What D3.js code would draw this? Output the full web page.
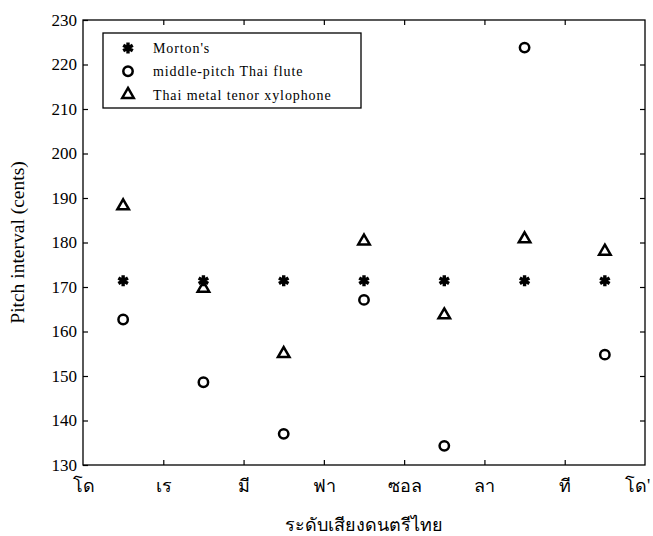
<!DOCTYPE html>
<head>
<meta charset="utf-8">
<script src="https://cdn.jsdelivr.net/npm/d3@7/dist/d3.min.js"></script>
<style>
body { margin: 0; background: #fff; }
text { font-family: "Liberation Serif", "Times New Roman", serif; fill: #000; }
</style>
</head>
<body>
<svg width="653" height="536"></svg>

<script>
    // scale degrees (x axis) and the intervals between them
    var degrees = ["โด", "เร", "มี", "ฟา", "ซอล", "ลา", "ที", "โด'"];
    var intervalPos = [0.5, 1.5, 2.5, 3.5, 4.5, 5.5, 6.5];

    var morton = [171.4, 171.4, 171.4, 171.4, 171.4, 171.4, 171.4];
    var flute = [162.7, 148.6, 137, 167.1, 134.3, 223.8, 154.8];
    var xylophone = [188.2, 169.7, 155, 180.3, 163.7, 180.8, 178];

    var yTicks = [130, 140, 150, 160, 170, 180, 190, 200, 210, 220, 230];
    var seriesNames = ["Morton's", "middle-pitch Thai flute", "Thai metal tenor xylophone"];

    var svg = d3.select("svg"),
        margin = {top: 20, right: 8, bottom: 71, left: 83},
        width = +svg.attr("width") - margin.left - margin.right,
        height = +svg.attr("height") - margin.top - margin.bottom,
        g = svg.append("g").attr("transform", "translate(" + margin.left + "," + margin.top + ")");

    var x = d3.scaleLinear().domain([0, 7]).range([0, width]);
    var y = d3.scaleLinear().domain([130, 230]).range([height, 0]);

    // frame
    g.append("rect")
      .attr("width", width).attr("height", height)
      .attr("fill", "none").attr("stroke", "#000").attr("stroke-width", 1.3);

    // inward ticks on all four sides
    var inner = d3.range(1, 7);
    var tickW = 1.2;
    g.append("g").call(d3.axisBottom(x).tickValues(inner).tickSize(-5).tickFormat(""))
      .attr("transform", "translate(0," + height + ")")
      .call(function(a) { a.select(".domain").remove(); a.selectAll("line").attr("stroke-width", tickW); });
    g.append("g").call(d3.axisTop(x).tickValues(inner).tickSize(-5).tickFormat(""))
      .call(function(a) { a.select(".domain").remove(); a.selectAll("line").attr("stroke-width", tickW); });
    g.append("g").call(d3.axisRight(y).tickValues(yTicks.slice(1, -1)).tickSize(-5).tickFormat(""))
      .attr("transform", "translate(" + width + ",0)")
      .call(function(a) { a.select(".domain").remove(); a.selectAll("line").attr("stroke-width", tickW); });

    var yAxis = g.append("g").call(d3.axisLeft(y).tickValues(yTicks).tickSize(-5).tickPadding(6))
      .call(function(a) { a.select(".domain").remove(); a.selectAll("line").attr("stroke-width", tickW); });
    yAxis.selectAll("text")
      .style("font-family", "Liberation Serif").attr("font-size", 17);

    var xAxis = g.append("g").attr("transform", "translate(0," + height + ")")
      .call(d3.axisBottom(x).tickValues(d3.range(8)).tickSize(0).tickPadding(14)
        .tickFormat(function(d) { return degrees[d]; }))
      .call(function(a) { a.select(".domain").remove(); });
    xAxis.selectAll("text")
      .style("font-family", "Liberation Serif, serif").attr("font-size", 18)
      .attr("dx", function(d) { return d === 7 ? -8 : 0; });

    // axis titles
    svg.append("text")
      .attr("transform", "translate(24," + (margin.top + height / 2) + ") rotate(-90)")
      .attr("text-anchor", "middle")
      .attr("font-size", 19.5)
      .text("Pitch interval (cents)");

    svg.append("text")
      .attr("x", margin.left + width / 2)
      .attr("y", 531)
      .attr("text-anchor", "middle")
      .attr("font-size", 18)
      .text("ระดับเสียงดนตรีไทย");

    // markers
    var star = d3.symbol().type(d3.symbolAsterisk).size(85);
    var tri = d3.symbol().type(d3.symbolTriangle2).size(95);

    function drawStar(sel) {
      sel.attr("d", star).attr("fill", "none").attr("stroke", "#000").attr("stroke-width", 3.4);
    }
    function drawCircle(sel) {
      sel.attr("r", 4.7).attr("fill", "none").attr("stroke", "#000").attr("stroke-width", 2.5);
    }
    function drawTri(sel) {
      sel.attr("d", tri).attr("fill", "none").attr("stroke", "#000").attr("stroke-width", 2.5)
        .attr("stroke-linejoin", "miter");
    }

    g.selectAll(".fl").data(flute).enter().append("circle")
      .attr("class", "fl")
      .attr("cx", function(d, i) { return x(intervalPos[i]); })
      .attr("cy", function(d) { return y(d); })
      .call(drawCircle);

    g.selectAll(".xy").data(xylophone).enter().append("path")
      .attr("class", "xy")
      .attr("transform", function(d, i) { return "translate(" + x(intervalPos[i]) + "," + y(d) + ")"; })
      .call(drawTri);

    g.selectAll(".mo").data(morton).enter().append("path")
      .attr("class", "mo")
      .attr("transform", function(d, i) { return "translate(" + x(intervalPos[i]) + "," + y(d) + ")"; })
      .call(drawStar);

    // legend
    var legend = g.append("g").attr("transform", "translate(20,13)");
    legend.append("rect")
      .attr("width", 258).attr("height", 75)
      .attr("fill", "#fff").attr("stroke", "#000").attr("stroke-width", 1.3);

    var items = legend.selectAll(".item").data(seriesNames).enter().append("g")
      .attr("class", "item")
      .attr("transform", function(d, i) { return "translate(25," + (15 + i * 23.3) + ")"; });

    items.each(function(d, i) {
      var it = d3.select(this);
      if (i === 0) it.append("path").call(drawStar);
      else if (i === 1) it.append("circle").call(drawCircle);
      else it.append("path").call(drawTri);
    });

    items.append("text")
      .attr("x", 25)
      .attr("dy", "0.35em")
      .attr("font-size", 14)
      .attr("letter-spacing", 0.9)
      .text(function(d) { return d; });
</script>
</body>
